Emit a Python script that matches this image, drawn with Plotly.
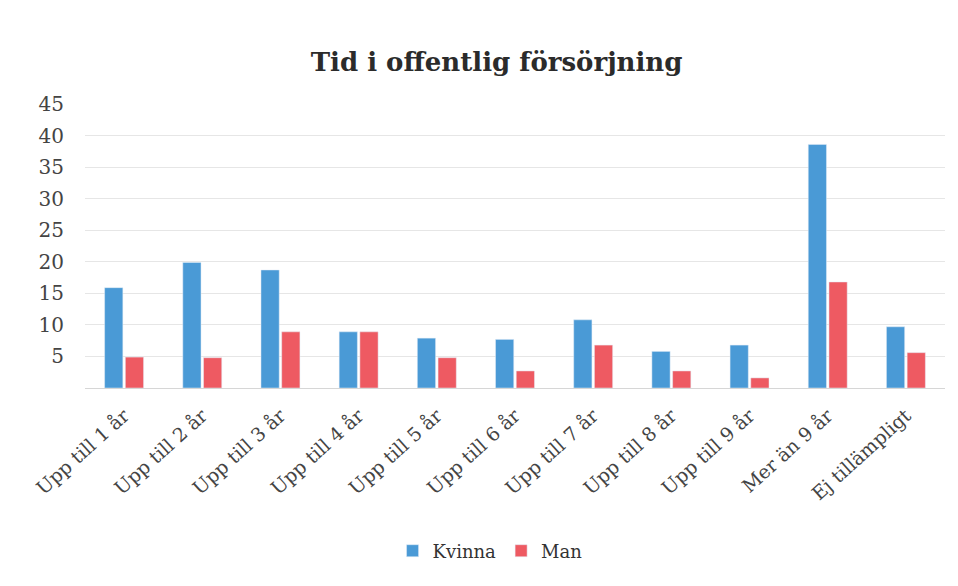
import plotly.graph_objects as go

categories = [
    "Upp till 1 år", "Upp till 2 år", "Upp till 3 år", "Upp till 4 år",
    "Upp till 5 år", "Upp till 6 år", "Upp till 7 år", "Upp till 8 år",
    "Upp till 9 år", "Mer än 9 år", "Ej tillämpligt",
]
kvinna = [15.9, 19.9, 18.7, 8.9, 7.9, 7.7, 10.8, 5.8, 6.8, 38.6, 9.7]
man = [4.9, 4.8, 8.9, 8.9, 4.8, 2.7, 6.8, 2.7, 1.6, 16.8, 5.6]
y_ticks = [5, 10, 15, 20, 25, 30, 35, 40, 45]

BLUE = "#4a9ad6"
RED = "#ee5a62"
FONT = "DejaVu Serif"

fig = go.Figure()
fig.add_trace(go.Bar(name="Kvinna", x=categories, y=kvinna, marker_color=BLUE))
fig.add_trace(go.Bar(name="Man", x=categories, y=man, marker_color=RED))

fig.update_layout(
    width=958, height=586,
    barmode="group", bargap=0.47, bargroupgap=0.12,
    plot_bgcolor="white", paper_bgcolor="white",
    margin=dict(l=77, r=21, t=96, b=206, autoexpand=False),
    title=dict(
        text="<b>Tid i offentlig försörjning</b>",
        x=0.51, xanchor="center", y=0.908, yanchor="middle",
        font=dict(family=FONT, size=26, color="#2b2b2b"),
    ),
    font=dict(family=FONT, color="#444444"),
    legend=dict(
        orientation="h", x=0.471, xanchor="center", y=-0.574, yanchor="middle",
        font=dict(family=FONT, size=18, color="#333333"),
        itemwidth=30, traceorder="normal",
    ),
    showlegend=True,
)
fig.update_yaxes(
    range=[0, 45], tickvals=y_ticks, ticktext=[str(v) for v in y_ticks],
    showgrid=True, gridcolor="#e6e6e6", gridwidth=1,
    zeroline=True, zerolinecolor="#d6d6d6", zerolinewidth=1,
    showline=False, ticks="", ticklabelstandoff=20, automargin=False,
    tickfont=dict(family=FONT, size=20, color="#444444"),
)
fig.update_xaxes(
    tickangle=-42, showgrid=False, showline=False, ticks="",
    ticklabelstandoff=12, automargin=False,
    tickfont=dict(family=FONT, size=19, color="#444444"),
)

fig.write_html("out.html")
